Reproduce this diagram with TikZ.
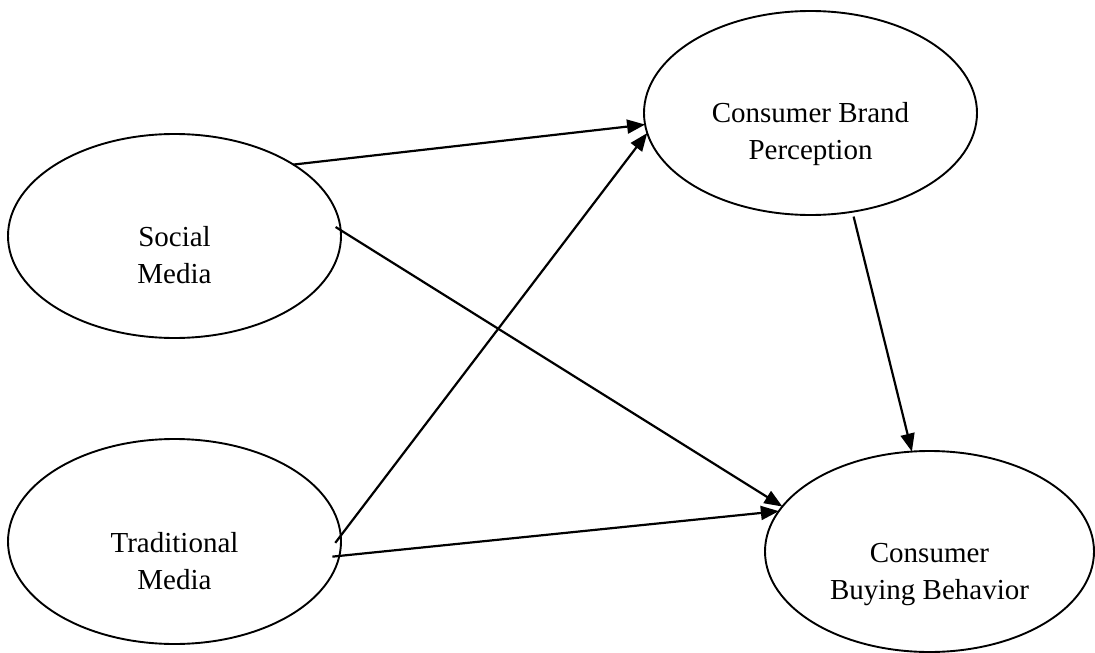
\documentclass[tikz,border=0pt]{standalone}
\usepackage{fontspec}
\setmainfont{Liberation Serif}
\usetikzlibrary{shapes.geometric,arrows.meta}
\begin{document}
\begin{tikzpicture}[x=1pt,y=-1pt,
  ell/.style={ellipse,draw,line width=1.9pt,inner sep=0pt,outer sep=0pt},
  lbl/.style={align=center,inner sep=0pt,font=\fontsize{29}{37}\selectfont},
  arr/.style={line width=2.2pt,-{Triangle[length=18pt,width=14pt]}}]
\useasboundingbox[fill=white] (0,0) rectangle (1095,653);
% ellipses
\node[ell,minimum width=333pt,minimum height=204pt] (sm) at (174.5,236) {};
\node[ell,minimum width=333pt,minimum height=205pt] (tm) at (174.5,541.5) {};
\node[ell,minimum width=333pt,minimum height=204pt] (bp) at (810.5,113) {};
\node[ell,minimum width=329pt,minimum height=201pt] (bb) at (929.5,551.5) {};
% labels
\node[lbl] (smt) at (174.5,255) {Social\\Media};
\node[lbl] (tmt) at (174.5,561) {Traditional\\Media};
\node[lbl] (bpt) at (810.5,134.5) {Consumer Brand\\Perception};
\node[lbl] (bbt) at (929.5,575) {Consumer\\Buying Behavior};
% connectors
\draw[arr] (sm.31.85) -- (bp.184.75);
\draw[arr,shorten <=-6pt] (sm.2.4) -- (bb.163.4);
\draw[arr,shorten <=-9pt] (tm.2) -- (bp.187);
\draw[arr,shorten <=-7pt] (tm.-5.5) -- (bb.165.7);
\draw[arr,shorten <=5pt] (bp.-67.6) -- (bb.100.2);
\end{tikzpicture}
\end{document}
